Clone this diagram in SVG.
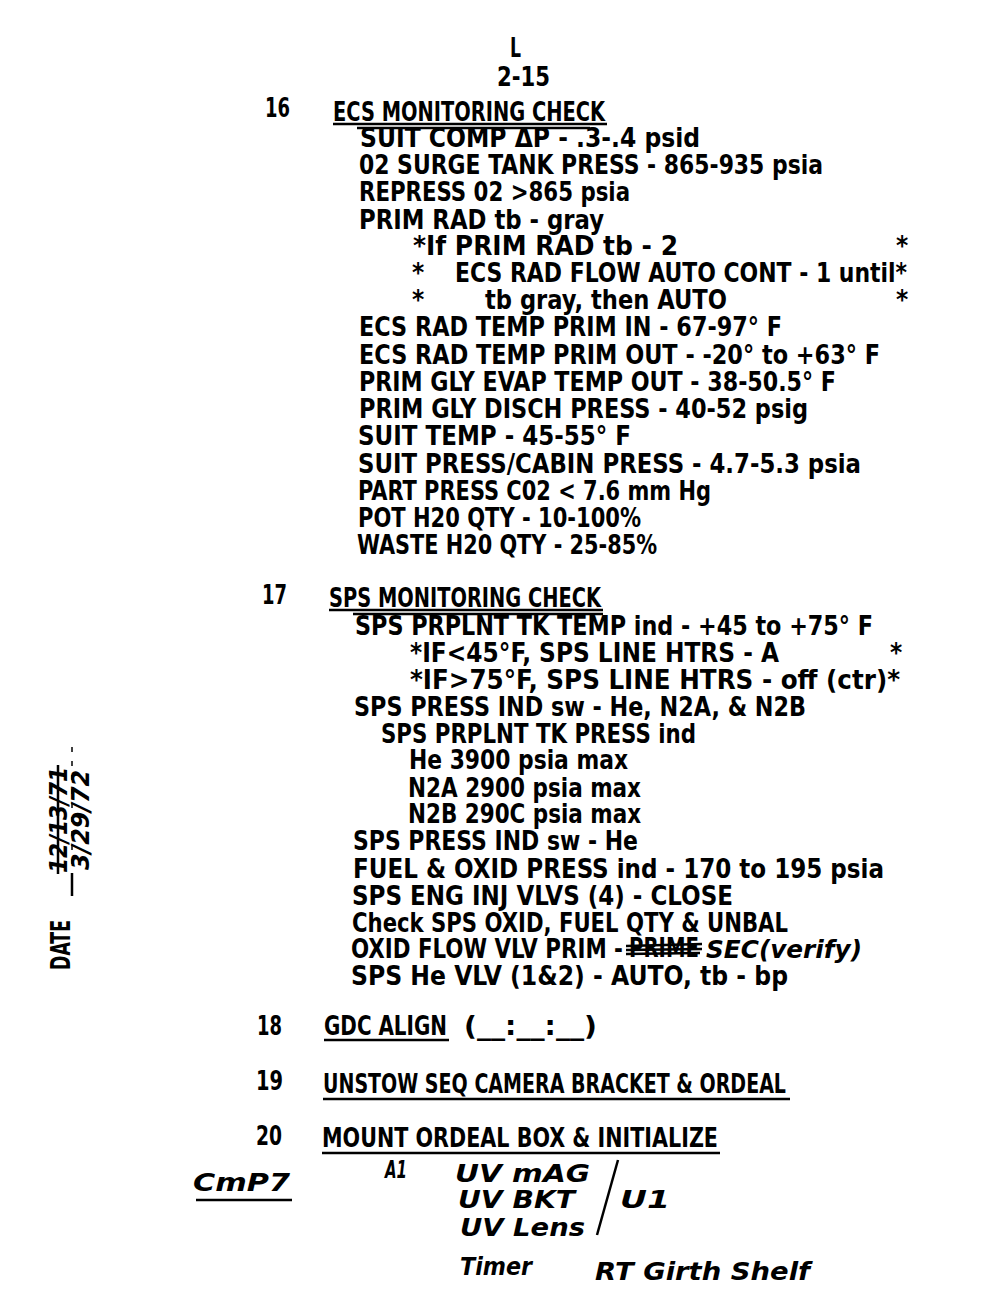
<svg xmlns="http://www.w3.org/2000/svg" width="1000" height="1300" viewBox="0 0 1000 1300">
<style>
.t{font-family:"DejaVu Sans Condensed","DejaVu Sans",sans-serif;font-stretch:condensed;font-weight:bold;font-size:26px;fill:#000}
.h{font-family:"DejaVu Sans","Liberation Sans",sans-serif;font-style:italic;font-weight:bold;font-size:24px;fill:#000}
.u{stroke:#000;stroke-width:2.5;fill:none}
</style>
<rect width="1000" height="1300" fill="#fff"/>
<g id="header">
<text class="t" x="510" y="57" textLength="11" lengthAdjust="spacingAndGlyphs">L</text>
<text class="t" x="497" y="86" textLength="53" lengthAdjust="spacingAndGlyphs">2-15</text>
</g>
<g id="step16">
<text class="t" x="265" y="117" textLength="25" lengthAdjust="spacingAndGlyphs">16</text>
<text class="t" x="333" y="121" textLength="272" lengthAdjust="spacingAndGlyphs">ECS MONITORING CHECK</text>
<line class="u" x1="333" y1="124" x2="607" y2="124"/>
<line class="u" x1="357" y1="128" x2="590" y2="128"/>
<text class="t" x="360" y="147" textLength="340" lengthAdjust="spacingAndGlyphs">SUIT COMP ΔP - .3-.4 psid</text>
<text class="t" x="359" y="174" textLength="464" lengthAdjust="spacingAndGlyphs">02 SURGE TANK PRESS - 865-935 psia</text>
<text class="t" x="359" y="201" textLength="271" lengthAdjust="spacingAndGlyphs">REPRESS 02 &gt;865 psia</text>
<text class="t" x="359" y="229" textLength="245" lengthAdjust="spacingAndGlyphs">PRIM RAD tb - gray</text>
<text class="t" x="413" y="255" textLength="265" lengthAdjust="spacingAndGlyphs">*If PRIM RAD tb - 2</text>
<text class="t" x="896" y="255">*</text>
<text class="t" x="412" y="282">*</text>
<text class="t" x="455" y="282" textLength="452" lengthAdjust="spacingAndGlyphs">ECS RAD FLOW AUTO CONT - 1 until*</text>
<text class="t" x="412" y="309">*</text>
<text class="t" x="485" y="309" textLength="242" lengthAdjust="spacingAndGlyphs">tb gray, then AUTO</text>
<text class="t" x="896" y="309">*</text>
<text class="t" x="359" y="336" textLength="423" lengthAdjust="spacingAndGlyphs">ECS RAD TEMP PRIM IN - 67-97° F</text>
<text class="t" x="359" y="364" textLength="521" lengthAdjust="spacingAndGlyphs">ECS RAD TEMP PRIM OUT - -20° to +63° F</text>
<text class="t" x="359" y="391" textLength="477" lengthAdjust="spacingAndGlyphs">PRIM GLY EVAP TEMP OUT - 38-50.5° F</text>
<text class="t" x="359" y="418" textLength="449" lengthAdjust="spacingAndGlyphs">PRIM GLY DISCH PRESS - 40-52 psig</text>
<text class="t" x="358" y="445" textLength="273" lengthAdjust="spacingAndGlyphs">SUIT TEMP - 45-55° F</text>
<text class="t" x="358" y="473" textLength="503" lengthAdjust="spacingAndGlyphs">SUIT PRESS/CABIN PRESS - 4.7-5.3 psia</text>
<text class="t" x="358" y="500" textLength="353" lengthAdjust="spacingAndGlyphs">PART PRESS C02 &lt; 7.6 mm Hg</text>
<text class="t" x="358" y="527" textLength="283" lengthAdjust="spacingAndGlyphs">POT H20 QTY - 10-100%</text>
<text class="t" x="357" y="554" textLength="300" lengthAdjust="spacingAndGlyphs">WASTE H20 QTY - 25-85%</text>
</g>
<g id="step17">
<text class="t" x="262" y="604" textLength="25" lengthAdjust="spacingAndGlyphs">17</text>
<text class="t" x="329" y="607" textLength="272" lengthAdjust="spacingAndGlyphs">SPS MONITORING CHECK</text>
<line class="u" x1="329" y1="610" x2="603" y2="610"/>
<line class="u" x1="353" y1="614" x2="603" y2="614"/>
<text class="t" x="355" y="635" textLength="518" lengthAdjust="spacingAndGlyphs">SPS PRPLNT TK TEMP ind - +45 to +75° F</text>
<text class="t" x="410" y="662" textLength="369" lengthAdjust="spacingAndGlyphs">*IF&lt;45°F, SPS LINE HTRS - A</text>
<text class="t" x="890" y="662">*</text>
<text class="t" x="410" y="689" textLength="490" lengthAdjust="spacingAndGlyphs">*IF&gt;75°F, SPS LINE HTRS - off (ctr)*</text>
<text class="t" x="354" y="716" textLength="452" lengthAdjust="spacingAndGlyphs">SPS PRESS IND sw - He, N2A, &amp; N2B</text>
<text class="t" x="381" y="743" textLength="315" lengthAdjust="spacingAndGlyphs">SPS PRPLNT TK PRESS ind</text>
<text class="t" x="409" y="769" textLength="219" lengthAdjust="spacingAndGlyphs">He 3900 psia max</text>
<text class="t" x="408" y="797" textLength="233" lengthAdjust="spacingAndGlyphs">N2A 2900 psia max</text>
<text class="t" x="408" y="823" textLength="233" lengthAdjust="spacingAndGlyphs">N2B 290C psia max</text>
<text class="t" x="353" y="850" textLength="285" lengthAdjust="spacingAndGlyphs">SPS PRESS IND sw - He</text>
<text class="t" x="353" y="878" textLength="531" lengthAdjust="spacingAndGlyphs">FUEL &amp; OXID PRESS ind - 170 to 195 psia</text>
<text class="t" x="352" y="905" textLength="381" lengthAdjust="spacingAndGlyphs">SPS ENG INJ VLVS (4) - CLOSE</text>
<text class="t" x="352" y="932" textLength="436" lengthAdjust="spacingAndGlyphs">Check SPS OXID, FUEL QTY &amp; UNBAL</text>
<text class="t" x="351" y="958" textLength="272" lengthAdjust="spacingAndGlyphs">OXID FLOW VLV PRIM -</text>
<text class="t" x="629" y="957" textLength="70" lengthAdjust="spacingAndGlyphs" font-size="18">PRIME</text>
<path class="u" d="M626 946 L702 944 M626 950 L702 949 M626 954 L700 953" stroke-width="3"/>
<text class="h" x="706" y="958" textLength="156" lengthAdjust="spacingAndGlyphs" font-weight="normal">SEC(verify)</text>
<text class="t" x="351" y="985" textLength="437" lengthAdjust="spacingAndGlyphs">SPS He VLV (1&amp;2) - AUTO, tb - bp</text>
</g>
<g id="step18">
<text class="t" x="257" y="1035" textLength="25" lengthAdjust="spacingAndGlyphs">18</text>
<text class="t" x="324" y="1035" textLength="123" lengthAdjust="spacingAndGlyphs">GDC ALIGN</text>
<line class="u" x1="324" y1="1040" x2="449" y2="1040"/>
<text class="t" x="464" y="1035" textLength="133" lengthAdjust="spacingAndGlyphs">(__:__:__)</text>
</g>
<g id="step19">
<text class="t" x="256" y="1090" textLength="27" lengthAdjust="spacingAndGlyphs">19</text>
<text class="t" x="323" y="1093" textLength="463" lengthAdjust="spacingAndGlyphs">UNSTOW SEQ CAMERA BRACKET &amp; ORDEAL</text>
<line class="u" x1="323" y1="1099" x2="790" y2="1099"/>
</g>
<g id="step20">
<text class="t" x="256" y="1145" textLength="26" lengthAdjust="spacingAndGlyphs">20</text>
<text class="t" x="322" y="1147" textLength="396" lengthAdjust="spacingAndGlyphs">MOUNT ORDEAL BOX &amp; INITIALIZE</text>
<line class="u" x1="322" y1="1153" x2="720" y2="1153"/>
</g>
<g id="handwriting">
<text class="h" x="193" y="1191" textLength="97" lengthAdjust="spacingAndGlyphs">CmP7</text>
<line class="u" x1="196" y1="1200" x2="292" y2="1200" stroke-width="3.5"/>
<text class="h" x="385" y="1178" textLength="22" lengthAdjust="spacingAndGlyphs">A1</text>
<text class="h" x="455" y="1182" textLength="135" lengthAdjust="spacingAndGlyphs">UV mAG</text>
<text class="h" x="458" y="1208" textLength="117" lengthAdjust="spacingAndGlyphs">UV BKT</text>
<text class="h" x="460" y="1236" textLength="125" lengthAdjust="spacingAndGlyphs">UV Lens</text>
<path class="u" d="M618 1160 L597 1235" stroke-width="3.5"/>
<text class="h" x="620" y="1208" textLength="50" lengthAdjust="spacingAndGlyphs">U1</text>
<text class="h" x="460" y="1275" textLength="72" lengthAdjust="spacingAndGlyphs">Timer</text>
<text class="h" x="595" y="1280" textLength="215" lengthAdjust="spacingAndGlyphs">RT Girth Shelf</text>
</g>
<g id="date">
<text class="t" transform="translate(70,970) rotate(-90)" textLength="50" lengthAdjust="spacingAndGlyphs" font-weight="normal" font-size="23">DATE</text>
<line x1="72" y1="873" x2="72" y2="896" stroke="#000" stroke-width="2.5"/>
<line x1="72" y1="747" x2="72" y2="870" stroke="#000" stroke-width="1.5" stroke-dasharray="5 9"/>
<text class="h" transform="translate(67,873) rotate(-90)" textLength="106" lengthAdjust="spacingAndGlyphs" font-size="24">12/13/71</text>
<line x1="58" y1="765" x2="58" y2="874" stroke="#000" stroke-width="2.5"/>
<text class="h" transform="translate(89,870) rotate(-90)" textLength="100" lengthAdjust="spacingAndGlyphs" font-size="20">3/29/72</text>
</g>
</svg>
